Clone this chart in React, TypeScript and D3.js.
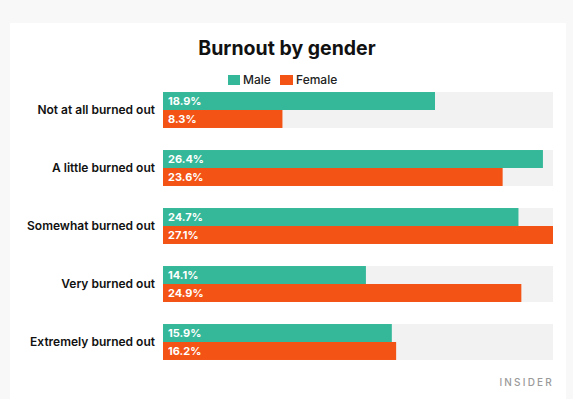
import * as d3 from "d3";
import React from "react";

const W = 573;
const H = 399;

const categories = [
  "Not at all burned out",
  "A little burned out",
  "Somewhat burned out",
  "Very burned out",
  "Extremely burned out",
];
const seriesNames = ["Male", "Female"];
const male = [18.9, 26.4, 24.7, 14.1, 15.9];
const female = [8.3, 23.6, 27.1, 24.9, 16.2];
const colors = ["#35b899", "#f35315"];

const font = "Inter, 'Noto Sans', sans-serif";

export default function App() {
  const x = d3
    .scaleLinear()
    .domain([0, d3.max([...male, ...female]) as number])
    .range([163, 553]);

  const y = d3
    .scaleBand<string>()
    .domain(categories)
    .range([81, 371])
    .paddingInner(0.38)
    .paddingOuter(0.19);

  const inner = d3
    .scaleBand<string>()
    .domain(seriesNames)
    .range([0, y.bandwidth()]);

  const rows = categories.map((c, i) => ({ c, vals: [male[i], female[i]] }));

  return (
    <div style={{ position: "absolute", left: 0, top: 0 }}>
      <svg width={W} height={H} style={{ display: "block" }}>
        <rect x={0} y={0} width={W} height={H} fill="#f8f8f8" />
        <rect x={10} y={23} width={556} height={H - 23} fill="#ffffff" />

        <text
          x={287}
          y={55}
          textAnchor="middle"
          fontFamily={font}
          fontWeight={700}
          fontSize={19.5}
          fill="#111"
        >
          Burnout by gender
        </text>

        {/* legend */}
        <rect x={228} y={75} width={12} height={10} fill={colors[0]} />
        <text x={243} y={84} fontFamily={font} fontSize={12} fontWeight={500} fill="#222">
          Male
        </text>
        <rect x={280} y={75} width={13} height={10} fill={colors[1]} />
        <text x={296} y={84} fontFamily={font} fontSize={12} fontWeight={500} fill="#222">
          Female
        </text>

        {rows.map((r) => {
          const y0 = y(r.c) as number;
          return (
            <g key={r.c}>
              <rect
                x={x(0)}
                y={y0}
                width={x.range()[1] - x(0)}
                height={y.bandwidth()}
                fill="#f2f2f2"
              />
              {r.vals.map((v, j) => {
                const by = y0 + (inner(seriesNames[j]) as number);
                return (
                  <g key={j}>
                    <rect
                      x={x(0)}
                      y={by}
                      width={x(v) - x(0)}
                      height={inner.bandwidth()}
                      fill={colors[j]}
                    />
                    <text
                      x={x(0) + 5}
                      y={by + inner.bandwidth() / 2 + 4}
                      fontFamily={font}
                      fontWeight={700}
                      fontSize={11}
                      fill="#fff"
                    >
                      {v.toFixed(1)}%
                    </text>
                  </g>
                );
              })}
              <text
                x={155}
                y={y0 + y.bandwidth() / 2 + 4}
                textAnchor="end"
                fontFamily={font}
                fontWeight={600}
                fontSize={12}
                fill="#111"
              >
                {r.c}
              </text>
            </g>
          );
        })}

        <text
          x={554}
          y={386}
          textAnchor="end"
          fontFamily={font}
          fontSize={10}
          fontWeight={500}
          letterSpacing={2.2}
          fill="#9a9a9a"
        >
          INSIDER
        </text>
      </svg>
    </div>
  );
}
